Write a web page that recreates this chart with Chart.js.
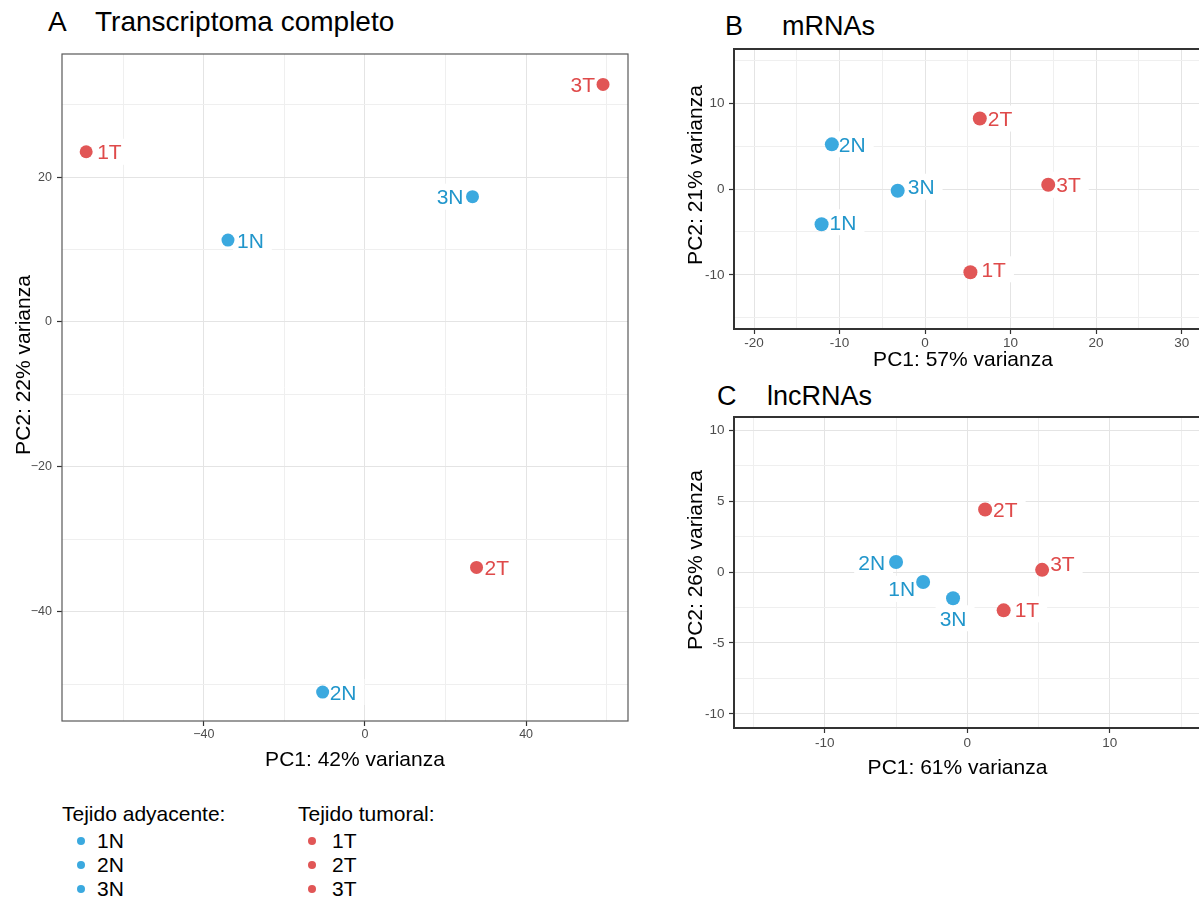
<!DOCTYPE html>
<html lang="es">
<head>
<meta charset="utf-8">
<title>PCA: transcriptoma, mRNAs y lncRNAs</title>
<script src="https://cdn.jsdelivr.net/npm/chart.js@4.4.0/dist/chart.umd.min.js"></script>
<style>
  html, body {
    margin: 0;
    padding: 0;
    background: #fff;
    width: 1199px;
    height: 901px;
    overflow: hidden;
    position: relative;
    font-family: "Liberation Sans", Arial, sans-serif;
  }
  .panel { position: absolute; }
  .titulo {
    position: absolute;
    white-space: nowrap;
    line-height: 1;
    color: #000;
  }
  .leyenda {
    position: absolute;
    white-space: nowrap;
    line-height: 1;
    font-size: 21px;
    color: #000;
  }
  .punto {
    position: absolute;
    width: 8px;
    height: 8px;
    border-radius: 50%;
  }
</style>
</head>
<body>

<div class="titulo" style="left:48px; top:8px; font-size:28px;">A</div>
<div class="titulo" style="left:95px; top:8px; font-size:28px;">Transcriptoma completo</div>
<div class="titulo" style="left:725px; top:13px; font-size:27px;">B</div>
<div class="titulo" style="left:782px; top:13px; font-size:27px;">mRNAs</div>
<div class="titulo" style="left:717px; top:383px; font-size:27px;">C</div>
<div class="titulo" style="left:767px; top:383px; font-size:27px;">lncRNAs</div>

<canvas id="pcaCompleto" class="panel" width="660" height="790" style="left:0; top:0;"></canvas>
<canvas id="pcaMrna" class="panel" width="564" height="380" style="left:676px; top:0;"></canvas>
<canvas id="pcaLnc" class="panel" width="564" height="410" style="left:676px; top:380px;"></canvas>

<div id="leyenda"></div>

<script>
// Muestras
var muestrasN = ["1N", "2N", "3N"];
var muestrasT = ["1T", "2T", "3T"];

// A: transcriptoma completo
var completoPC1N = [-34.0, -10.5, 26.7];
var completoPC2N = [11.3, -51.1, 17.3];
var completoPC1T = [-69.2, 27.7, 59.1];
var completoPC2T = [23.5, -33.9, 32.8];

// B: mRNAs
var mrnaPC1N = [-12.1, -10.9, -3.2];
var mrnaPC2N = [-4.1, 5.2, -0.2];
var mrnaPC1T = [5.3, 6.4, 14.4];
var mrnaPC2T = [-9.7, 8.2, 0.5];

// C: lncRNAs
var lncPC1N = [-3.1, -5.0, -1.0];
var lncPC2N = [-0.7, 0.7, -1.85];
var lncPC1T = [2.55, 1.25, 5.25];
var lncPC2T = [-2.7, 4.4, 0.15];

// Porcentaje de varianza explicada [PC1, PC2]
var varianzaCompleto = [42, 22];
var varianzaMrna = [57, 21];
var varianzaLnc = [61, 26];

// Marcas con etiqueta y lineas de rejilla de cada eje
var completoMarcasX = [-40, 0, 40];
var completoRejillaX = [-60, -40, -20, 0, 20, 40, 60];
var completoMarcasY = [-40, -20, 0, 20];
var completoRejillaY = [-50, -40, -30, -20, -10, 0, 10, 20, 30];
var mrnaMarcasX = [-20, -10, 0, 10, 20, 30];
var mrnaRejillaX = [-20, -15, -10, -5, 0, 5, 10, 15, 20, 25, 30];
var mrnaMarcasY = [-10, 0, 10];
var mrnaRejillaY = [-15, -10, -5, 0, 5, 10, 15];
var lncMarcasX = [-10, 0, 10];
var lncRejillaX = [-15, -10, -5, 0, 5, 10, 15];
var lncMarcasY = [-10, -5, 0, 5, 10];
var lncRejillaY = [-10, -7.5, -5, -2.5, 0, 2.5, 5, 7.5, 10];

var fuente = '"Liberation Sans", Arial, sans-serif';
var azul = "#3BA9DF";
var azulTexto = "#2196CB";
var rojo = "#E15656";
var rojoTexto = "#DF4A4A";

Chart.defaults.font.family = fuente;

// etiquetas de cada punto (1N, 2T...) con un fondo blanco detras
var pluginEtiquetas = {
  id: "etiquetas",
  beforeDatasetsDraw: function (chart, args, opts) {
    recorrerEtiquetas(chart, opts, function (ctx, x, y, ancho) {
      ctx.fillStyle = "#fff";
      ctx.fillRect(x - 4, y - 13, ancho + 12, 26);
    });
  },
  afterDatasetsDraw: function (chart, args, opts) {
    recorrerEtiquetas(chart, opts, function (ctx, x, y, ancho, texto, color) {
      ctx.fillStyle = color;
      ctx.textAlign = "left";
      ctx.textBaseline = "alphabetic";
      ctx.fillText(texto, x, y + opts.tamano * 0.36);
    });
  },
};

function recorrerEtiquetas(chart, opts, dibujar) {
  var ctx = chart.ctx;
  ctx.save();
  ctx.font = opts.tamano + "px " + fuente;
  chart.data.datasets.forEach(function (ds, d) {
    var meta = chart.getDatasetMeta(d);
    meta.data.forEach(function (punto, i) {
      var texto = ds.data[i].muestra;
      var col = opts.colocacion[d][i];
      var ancho = ctx.measureText(texto).width;
      var x = punto.x + col[0];
      if (col[2] === "right") x -= ancho;
      if (col[2] === "center") x -= ancho / 2;
      dibujar(ctx, x, punto.y + col[1], ancho, texto, ds.colorTexto);
    });
  });
  ctx.restore();
}

// marco completo alrededor del panel
var pluginMarco = {
  id: "marco",
  afterDatasetsDraw: function (chart, args, opts) {
    var a = chart.chartArea;
    var ctx = chart.ctx;
    ctx.save();
    ctx.strokeStyle = opts.color;
    ctx.lineWidth = opts.grosor;
    ctx.strokeRect(a.left, a.top, a.right - a.left, a.bottom - a.top);
    ctx.restore();
  },
};

// titulos de los ejes en posiciones fijas
var pluginTitulos = {
  id: "titulosEjes",
  afterDraw: function (chart, args, opts) {
    var ctx = chart.ctx;
    ctx.save();
    ctx.font = opts.tamano + "px " + fuente;
    ctx.fillStyle = "#000";
    ctx.textAlign = "center";
    ctx.textBaseline = "alphabetic";
    ctx.fillText(opts.x.texto, opts.x.pos[0], opts.x.pos[1] + opts.tamano * 0.36);
    ctx.translate(opts.y.pos[0], opts.y.pos[1]);
    ctx.rotate(-Math.PI / 2);
    ctx.fillText(opts.y.texto, 0, opts.tamano * 0.36);
    ctx.restore();
  },
};

function puntos(pc1, pc2, nombres) {
  return nombres.map(function (m, i) {
    return { x: pc1[i], y: pc2[i], muestra: m };
  });
}

function eje(p) {
  return {
    type: "linear",
    min: p.min,
    max: p.max,
    afterBuildTicks: function (s) {
      s.ticks = p.rejilla.map(function (v) {
        return { value: v };
      });
    },
    afterFit: function (s) {
      if (s.isHorizontal()) s.height = p.tamanoEje;
      else s.width = p.tamanoEje;
    },
    border: { display: false },
    grid: {
      color: function (c) {
        return p.marcas.indexOf(c.tick.value) >= 0 ? "#E4E4E4" : "#EFEFEF";
      },
      lineWidth: 1,
      drawTicks: true,
      tickLength: 5,
      tickWidth: 1.2,
      tickColor: function (c) {
        return p.marcas.indexOf(c.tick.value) >= 0 ? "#333" : "rgba(0,0,0,0)";
      },
    },
    ticks: {
      autoSkip: false,
      maxRotation: 0,
      padding: p.padding,
      color: "#4D4D4D",
      font: { size: p.letra },
      callback: function (v) {
        if (p.marcas.indexOf(v) < 0) return "";
        return v < 0 ? p.menos + Math.abs(v) : String(v);
      },
    },
  };
}

function crearPanel(id, p) {
  return new Chart(document.getElementById(id), {
    type: "scatter",
    data: {
      datasets: [
        {
          label: "Tejido adyacente",
          data: puntos(p.pc1N, p.pc2N, muestrasN),
          backgroundColor: azul,
          colorTexto: azulTexto,
          pointRadius: p.radio,
          pointHoverRadius: p.radio,
          borderWidth: 0,
        },
        {
          label: "Tejido tumoral",
          data: puntos(p.pc1T, p.pc2T, muestrasT),
          backgroundColor: rojo,
          colorTexto: rojoTexto,
          pointRadius: p.radio,
          pointHoverRadius: p.radio,
          borderWidth: 0,
        },
      ],
    },
    options: {
      responsive: false,
      animation: false,
      events: [],
      layout: { padding: p.margen },
      plugins: {
        legend: { display: false },
        tooltip: { enabled: false },
        etiquetas: { tamano: 21, colocacion: p.colocacion },
        marco: p.marco,
        titulosEjes: {
          tamano: 21,
          x: { texto: "PC1: " + p.varianza[0] + "% varianza", pos: p.posTituloX },
          y: { texto: "PC2: " + p.varianza[1] + "% varianza", pos: p.posTituloY },
        },
      },
      scales: { x: eje(p.ejeX), y: eje(p.ejeY) },
    },
    plugins: [pluginEtiquetas, pluginMarco, pluginTitulos],
  });
}

// A
crearPanel("pcaCompleto", {
  pc1N: completoPC1N, pc2N: completoPC2N,
  pc1T: completoPC1T, pc2T: completoPC2T,
  varianza: varianzaCompleto,
  radio: 6.5,
  margen: { top: 54, right: 32, left: 0, bottom: 0 },
  marco: { color: "#595959", grosor: 1.2 },
  posTituloX: [355, 758],
  posTituloY: [22, 365],
  colocacion: [
    [[9, 0, "left"], [7, 0, "left"], [-9, 0, "right"]],
    [[11, 0, "left"], [8, 0, "left"], [-8, 0, "right"]],
  ],
  ejeX: { min: -75.2, max: 65.3, rejilla: completoRejillaX, marcas: completoMarcasX,
          tamanoEje: 69, padding: 1.5, letra: 12.5, menos: "\u2212" },
  ejeY: { min: -55.1, max: 37.0, rejilla: completoRejillaY, marcas: completoMarcasY,
          tamanoEje: 62, padding: 5, letra: 12.5, menos: "\u2212" },
});

// B
crearPanel("pcaMrna", {
  pc1N: mrnaPC1N, pc2N: mrnaPC2N,
  pc1T: mrnaPC1T, pc2T: mrnaPC2T,
  varianza: varianzaMrna,
  radio: 7,
  margen: { top: 49, right: 25, left: 0, bottom: 0 },
  marco: { color: "#333", grosor: 2 },
  posTituloX: [287, 358],
  posTituloY: [18, 175],
  colocacion: [
    [[8, -2, "left"], [7, 0, "left"], [10, -4, "left"]],
    [[11, -3, "left"], [8, 0, "left"], [8, 0, "left"]],
  ],
  ejeX: { min: -22.34, max: 33.9, rejilla: mrnaRejillaX, marcas: mrnaMarcasX,
          tamanoEje: 51, padding: 1, letra: 13.5, menos: "-" },
  ejeY: { min: -16.3, max: 16.3, rejilla: mrnaRejillaY, marcas: mrnaMarcasY,
          tamanoEje: 58, padding: 4.5, letra: 13.5, menos: "-" },
});

// C
crearPanel("pcaLnc", {
  pc1N: lncPC1N, pc2N: lncPC2N,
  pc1T: lncPC1T, pc2T: lncPC2T,
  varianza: varianzaLnc,
  radio: 7,
  margen: { top: 37, right: 25, left: 0, bottom: 0 },
  marco: { color: "#333", grosor: 2 },
  posTituloX: [281.5, 386],
  posTituloY: [18, 180],
  colocacion: [
    [[-8, 7, "right"], [-11, 0, "right"], [0, 20, "center"]],
    [[11, -1, "left"], [8, 0, "left"], [8, -6, "left"]],
  ],
  ejeX: { min: -16.37, max: 17.38, rejilla: lncRejillaX, marcas: lncMarcasX,
          tamanoEje: 62, padding: 2, letra: 13.5, menos: "-" },
  ejeY: { min: -10.99, max: 10.92, rejilla: lncRejillaY, marcas: lncMarcasY,
          tamanoEje: 58, padding: 4.5, letra: 13.5, menos: "-" },
});

// Leyenda en dos columnas
function columnaLeyenda(titulo, nombres, color, x, xPunto, xTexto) {
  var html = '<div class="leyenda" style="left:' + x + 'px; top:803px;">' + titulo + "</div>";
  var lineas = [848, 872, 895.5];
  nombres.forEach(function (m, i) {
    var base = lineas[i];
    html += '<div class="punto" style="background:' + color + "; left:" + (xPunto - 4) +
      "px; top:" + (base - 11) + 'px;"></div>';
    html += '<div class="leyenda" style="left:' + xTexto + "px; top:" + (base - 17.8) + 'px;">' + m + "</div>";
  });
  return html;
}

document.getElementById("leyenda").innerHTML =
  columnaLeyenda("Tejido adyacente:", muestrasN, azul, 62, 81, 97) +
  columnaLeyenda("Tejido tumoral:", muestrasT, rojo, 298, 312, 332);
</script>
</body>
</html>
